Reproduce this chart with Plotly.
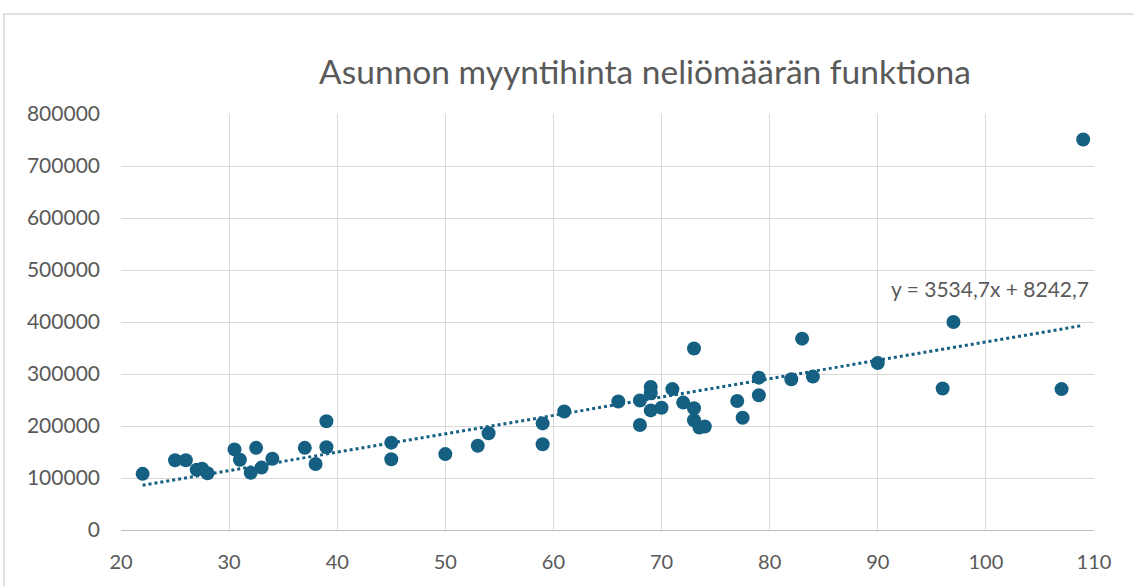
import plotly.graph_objects as go
import numpy as np

# Data
area_m2 = [22, 25, 26, 27, 27.5, 28, 30.5, 31, 32, 32.5, 33, 34, 37, 38, 39, 39,
           45, 45, 50, 53, 54, 59, 59, 61, 66, 68, 68, 69, 69, 69, 70, 71, 72,
           73, 73, 73, 73.5, 74, 77, 77.5, 79, 79, 82, 83, 84, 90, 96, 97, 107, 109]
price_eur = [108000, 134000, 134000, 116000, 118000, 109000, 155000, 135000, 110000, 158000,
             120000, 137000, 158000, 127000, 209000, 159000,
             168000, 136000, 146000, 162000, 186000, 205000, 165000, 228000, 247000, 202000,
             249000, 275000, 263000, 230000, 235000, 271000, 245000,
             349000, 234000, 211000, 197000, 199000, 248000, 216000, 293000, 259000, 290000,
             368000, 295000, 321000, 272000, 400000, 271000, 751000]

trend_slope = 3534.7
trend_intercept = 8242.7
trend_label = "y = 3534,7x + 8242,7"
title_text = "Asunnon myyntihinta neliömäärän funktiona"
x_ticks = [20, 30, 40, 50, 60, 70, 80, 90, 100, 110]
y_ticks = [0, 100000, 200000, 300000, 400000, 500000, 600000, 700000, 800000]

COLOR = "#156082"
TEXT = "#595959"
FONT = "Lato"

tx = np.array([min(area_m2), max(area_m2)])
ty = trend_slope * tx + trend_intercept

fig = go.Figure()
fig.add_trace(go.Scatter(x=tx, y=ty, mode="lines",
                         line=dict(color=COLOR, width=3, dash="dot"),
                         hoverinfo="skip", showlegend=False))
fig.add_trace(go.Scatter(x=area_m2, y=price_eur, mode="markers",
                         marker=dict(color=COLOR, size=14, line=dict(width=0)),
                         showlegend=False))

W, H = 1134, 586
L, R, T, B = 121, 40, 114, 56
pw, ph = W - L - R, H - T - B

def px2paper_x(p):
    return (p - L) / pw

def py2paper_y(p):
    return (H - B - p) / ph

fig.add_annotation(text=trend_label, x=px2paper_x(1091), y=py2paper_y(288),
                   xref="paper", yref="paper",
                   xanchor="right", yanchor="middle", showarrow=False,
                   font=dict(family=FONT, size=21, color=TEXT))

fig.add_shape(type="rect", xref="paper", yref="paper",
              x0=px2paper_x(4), x1=px2paper_x(1200),
              y0=py2paper_y(700), y1=py2paper_y(14),
              line=dict(color="#d9d9d9", width=1.5), fillcolor="rgba(0,0,0,0)",
              layer="below")

fig.update_layout(
    width=W, height=H, autosize=False,
    margin=dict(l=L, r=R, t=T, b=B),
    paper_bgcolor="white", plot_bgcolor="white",
    title=dict(text=title_text, x=645 / W, xanchor="center",
               y=1 - 72 / H, yanchor="middle",
               font=dict(family=FONT, size=33.5, color=TEXT)),
    xaxis=dict(range=[20, 110], tickvals=x_ticks, showgrid=True,
               gridcolor="#d9d9d9", gridwidth=1.3, zeroline=False,
               showline=True, linecolor="#bfbfbf", linewidth=1.3,
               ticks="", tickfont=dict(family=FONT, size=20, color=TEXT),
               ticklabelstandoff=14),
    yaxis=dict(range=[0, 800000], tickvals=y_ticks, showgrid=True,
               gridcolor="#d9d9d9", gridwidth=1.3, zeroline=False,
               showline=False, ticks="", separatethousands=False,
               tickformat="d", tickfont=dict(family=FONT, size=21, color=TEXT),
               ticklabelstandoff=20),
)

fig.write_html("out.html", config={"displayModeBar": False},
               post_script="document.body.style.margin='0';")
